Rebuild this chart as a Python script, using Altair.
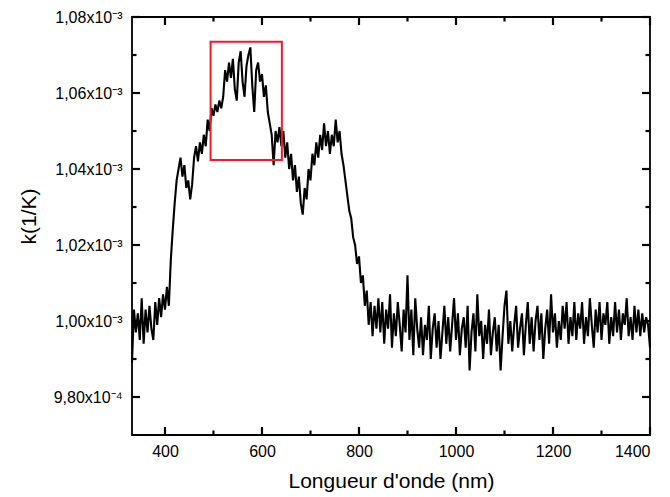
import altair as alt
import pandas as pd

# Wavelength step (nm) of the sampled spectrum
STEP = 4

seg_uv_start = 332
seg_uv = [989, 1003, 997, 1002, 995, 1006, 994, 1003, 997, 1004, 998, 995,
          1005, 999, 1006, 1001, 1007, 1003, 1009]

seg_rise_start = 408
seg_rise = [1004, 1016, 1024, 1031, 1037, 1040, 1043, 1038, 1041, 1035, 1037,
            1032, 1036, 1043, 1046, 1042, 1047, 1044, 1049, 1046, 1053, 1050, 1056]

seg_peak_start = 500
seg_peak = [1054, 1057, 1055, 1058, 1056, 1059, 1066, 1063, 1068, 1064, 1069,
            1061, 1058, 1068, 1071, 1063, 1059, 1067, 1070, 1072, 1062, 1055,
            1066, 1068, 1063, 1065, 1059, 1062, 1055, 1052, 1049, 1041, 1050,
            1047, 1051, 1046]

seg_second_start = 644
seg_second = [1050, 1043, 1047, 1040, 1044, 1037, 1041, 1034, 1038, 1031, 1028,
              1035, 1032, 1040, 1037, 1044, 1041, 1047, 1043, 1049, 1045, 1052,
              1046, 1050, 1044, 1049, 1046, 1053, 1047, 1050, 1044, 1041, 1037,
              1033, 1029]

seg_fall_start = 784
seg_fall = [1027, 1022, 1020, 1015, 1017, 1010, 1012, 1004, 1008, 999, 1005,
            996, 1004, 998, 1006]

seg_nir1_start = 844
seg_nir1 = [997, 1005, 994, 1003, 998, 1007, 993, 1002, 996, 1005, 999, 992,
            1003, 997, 1012, 995, 1003, 991, 1006, 998, 993, 1001, 991, 999,
            995, 1004, 990, 998, 1002, 993, 1000, 990, 997, 1004, 994, 1001,
            992, 999, 1006, 995, 1002, 991, 998, 1001, 993, 1004, 987, 997,
            1002, 992, 1007, 996, 1000, 990, 999, 994, 1003, 991, 997, 1001,
            992, 999, 987, 996, 1004]

seg_nir2_start = 1104
seg_nir2 = [1008, 994, 1000, 992, 999, 1004, 993, 998, 1002, 991, 999, 1005,
            994, 1001, 992, 1000, 1004, 995, 1002, 990, 998, 1003, 994, 1007,
            997, 1002, 993, 1000, 995, 1004, 998, 1005, 994, 1001, 996, 1005,
            995, 1002, 998, 1005, 994, 1001, 996, 1006, 999, 993, 1003, 997,
            1005, 995, 1002, 999, 1005, 994, 1001, 996, 1005, 997, 1003, 995,
            1002, 999, 1006, 996, 1001, 995, 1004, 997, 1003, 996, 1002, 997,
            1001, 999, 993]

rect_wl = [494, 641]
rect_k = [1.0424e-3, 1.0735e-3]

x_major = [400, 600, 800, 1000, 1200, 1400]
x_minor = [500, 700, 900, 1100, 1300]
y_major = [0.98e-3, 1.00e-3, 1.02e-3, 1.04e-3, 1.06e-3, 1.08e-3]
y_minor = [0.99e-3, 1.01e-3, 1.03e-3, 1.05e-3, 1.07e-3]
y_labels = ["9,80x10⁻⁴", "1,00x10⁻³", "1,02x10⁻³", "1,04x10⁻³", "1,06x10⁻³", "1,08x10⁻³"]

segments = [(seg_uv_start, seg_uv), (seg_rise_start, seg_rise),
            (seg_peak_start, seg_peak), (seg_second_start, seg_second),
            (seg_fall_start, seg_fall), (seg_nir1_start, seg_nir1),
            (seg_nir2_start, seg_nir2)]
rows = []
for start, vals in segments:
    for j, v in enumerate(vals):
        rows.append({"wl": start + STEP * j, "k": v * 1e-6})
df = pd.DataFrame(rows)

rect_df = pd.DataFrame({"x1": [rect_wl[0]], "x2": [rect_wl[1]],
                        "y1": [rect_k[0]], "y2": [rect_k[1]]})

FONT = "Liberation Sans"
W, H = 518, 418
X0, X1 = 332, 1400
Y0, Y1 = 0.97e-3, 1.08e-3
xs = alt.Scale(domain=[X0, X1], nice=False, zero=False)
ys = alt.Scale(domain=[Y0, Y1], nice=False, zero=False)

label_arr = "[" + ",".join("'%s'" % s for s in y_labels) + "]"
y_label_expr = label_arr + "[round((datum.value - 0.00098) / 0.00002)]"

# tick sizes in pixels, turned into data units of each scale
MAJ = 8
MIN = 4.5
TW = 2.2
px_x = (X1 - X0) / W
px_y = (Y1 - Y0) / H

main = alt.Chart(df).mark_line(color="black", strokeWidth=2.1).encode(
    x=alt.X("wl:Q", scale=xs,
            axis=alt.Axis(orient="bottom", values=x_major, format="d",
                          ticks=False, tickSize=0, domain=False, grid=False,
                          labelFont=FONT, labelFontSize=16, labelColor="black",
                          labelPadding=8, labelOverlap=False,
                          title="Longueur d'onde (nm)", titleFont=FONT,
                          titleFontSize=21, titleFontWeight="normal",
                          titleColor="black", titlePadding=11)),
    y=alt.Y("k:Q", scale=ys,
            axis=alt.Axis(orient="left", values=y_major, labelExpr=y_label_expr,
                          ticks=False, tickSize=0, domain=False, grid=False,
                          labelFont=FONT, labelFontSize=16, labelColor="black",
                          labelPadding=10, labelOverlap=False,
                          title="k(1/K)", titleFont=FONT, titleFontSize=21,
                          titleFontWeight="normal", titleColor="black",
                          titlePadding=14, titleY=199)),
)

# inward ticks as thin filled rectangles placed through the scales
tick_rows = []
half_x = TW / 2 * px_x
half_y = TW / 2 * px_y
for vals, size in ((x_major, MAJ), (x_minor, MIN)):
    for v in vals:
        tick_rows.append({"xa": v - half_x, "xb": v + half_x,
                          "ya": Y0, "yb": Y0 + size * px_y})
        tick_rows.append({"xa": v - half_x, "xb": v + half_x,
                          "ya": Y1 - size * px_y, "yb": Y1})
for vals, size in ((y_major, MAJ), (y_minor, MIN)):
    for v in vals:
        tick_rows.append({"xa": X0, "xb": X0 + size * px_x,
                          "ya": v - half_y, "yb": v + half_y})
        tick_rows.append({"xa": X1 - size * px_x, "xb": X1,
                          "ya": v - half_y, "yb": v + half_y})
tick_df = pd.DataFrame(tick_rows)

ticks = alt.Chart(tick_df).mark_rect(color="black", opacity=1).encode(
    x=alt.X("xa:Q", scale=xs, axis=None),
    x2="xb:Q",
    y=alt.Y("ya:Q", scale=ys, axis=None),
    y2="yb:Q",
)

box = alt.Chart(rect_df).mark_rect(fillOpacity=0, stroke="#ee1c24",
                                   strokeWidth=2).encode(
    x=alt.X("x1:Q", scale=xs, axis=None),
    x2="x2:Q",
    y=alt.Y("y1:Q", scale=ys, axis=None),
    y2="y2:Q",
)

chart = alt.layer(main, ticks, box).resolve_axis(
    x="independent", y="independent"
).properties(
    width=W, height=H,
    autosize=alt.AutoSizeParams(type="none"),
    padding={"left": 124, "top": 9, "right": 12, "bottom": 62},
).configure_view(
    stroke="black", strokeWidth=1.8
)

chart.save("out.html", embed_options={"renderer": "svg", "actions": False})
